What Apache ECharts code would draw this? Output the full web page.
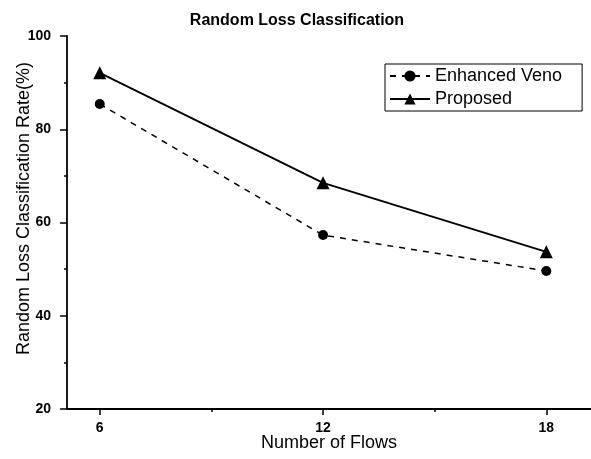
<!DOCTYPE html>
<html>
<head>
<meta charset="utf-8">
<script src="https://cdn.jsdelivr.net/npm/echarts@6/dist/echarts.min.js"></script>
<style>
html, body { margin: 0; padding: 0; background: #fff; }
#main { width: 591px; height: 459px; }
</style>
</head>
<body>
<div id="main"></div>
<script>
// data
var flows = [6, 12, 18];
var enhancedVeno = [85.4, 57.3, 49.6];
var proposed = [92.1, 68.5, 53.7];
var xMajorTicks = [6, 12, 18];
var xMinorTicks = [9, 15];

var myChart = echarts.init(document.getElementById('main'));
var font = 'Liberation Sans, Arial, sans-serif';

function pairs(ys) {
    return flows.map(function (x, i) { return [x, ys[i]]; });
}

var option = {
    backgroundColor: '#fff',
    animation: false,
    title: {
        text: 'Random Loss Classification',
        left: 292,
        textAlign: 'center',
        top: 8,
        textStyle: { fontFamily: font, fontSize: 16, fontWeight: 'bold', color: '#000' }
    },
    legend: {
        left: 385,
        top: 64,
        orient: 'vertical',
        padding: [3, 20, 3, 4],
        itemGap: 5,
        itemWidth: 40,
        itemHeight: 14,
        borderColor: '#000',
        borderWidth: 1,
        backgroundColor: '#fff',
        textStyle: { fontFamily: font, fontSize: 18, color: '#000' },
        data: ['Enhanced Veno', 'Proposed']
    },
    grid: { left: 67, right: 0, top: 36, bottom: 50, outerBoundsMode: 'none', containLabel: false },
    xAxis: [{
        type: 'value',
        min: 5.12,
        max: 19.2,
        name: 'Number of Flows',
        nameLocation: 'middle',
        nameGap: 25,
        nameMoveOverlap: false,
        nameTextStyle: { fontFamily: font, fontSize: 18, color: '#000' },
        axisLine: { onZero: false, lineStyle: { color: '#000', width: 1.8 } },
        axisTick: { customValues: xMajorTicks, length: 6, lineStyle: { color: '#000', width: 1.5 } },
        axisLabel: { customValues: xMajorTicks, margin: 12, fontFamily: font, fontSize: 14, fontWeight: 'bold', color: '#000' },
        splitLine: { show: false }
    }, {
        type: 'value',
        min: 5.12,
        max: 19.2,
        position: 'bottom',
        axisLine: { show: false },
        axisTick: { customValues: xMinorTicks, length: 3, lineStyle: { color: '#000', width: 1.5 } },
        axisLabel: { show: false },
        splitLine: { show: false }
    }],
    yAxis: {
        type: 'value',
        min: 20,
        max: 100,
        interval: 20,
        name: 'Random Loss Classification Rate(%)',
        nameLocation: 'middle',
        nameGap: 34,
        nameMoveOverlap: false,
        nameTextStyle: { fontFamily: font, fontSize: 18, color: '#000', padding: [0, 0, 0, 28] },
        axisLine: { show: true, lineStyle: { color: '#000', width: 1.8 } },
        axisTick: { length: 7, lineStyle: { color: '#000', width: 1.5 } },
        minorTick: { show: true, splitNumber: 2, length: 3, lineStyle: { color: '#000', width: 1.5 } },
        axisLabel: { margin: 16, fontFamily: font, fontSize: 14, fontWeight: 'bold', color: '#000' },
        splitLine: { show: false }
    },
    series: [
        {
            name: 'Enhanced Veno',
            type: 'line',
            data: pairs(enhancedVeno),
            symbol: 'circle',
            symbolSize: 10,
            itemStyle: { color: '#000' },
            lineStyle: { color: '#000', width: 1.5, type: [6, 6] }
        },
        {
            name: 'Proposed',
            type: 'line',
            data: pairs(proposed),
            symbol: 'triangle',
            symbolSize: 13,
            itemStyle: { color: '#000' },
            lineStyle: { color: '#000', width: 1.8 }
        }
    ]
};

myChart.setOption(option);
</script>
</body>
</html>
